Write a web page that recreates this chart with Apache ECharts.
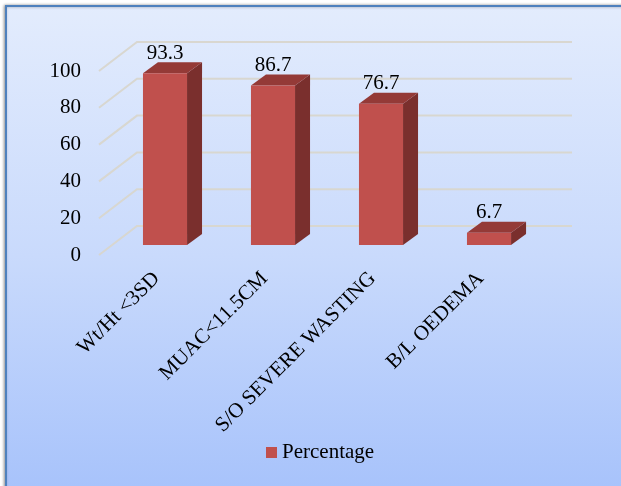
<!DOCTYPE html>
<html>
<head>
<meta charset="utf-8">
<script src="https://cdn.jsdelivr.net/npm/echarts@6/dist/echarts.min.js"></script>
<style>
  html, body { margin: 0; padding: 0; background: #ffffff; }
  #chart { width: 621px; height: 486px; }
</style>
</head>
<body>
<div id="chart"></div>
<script>
// Indicators of severe acute malnutrition, share of children (%)
const categories = ['Wt/Ht <3SD', 'MUAC<11.5CM', 'S/O SEVERE WASTING', 'B/L OEDEMA'];
const percentage = [93.3, 86.7, 76.7, 6.7];
const yTicks = [0, 20, 40, 60, 80, 100];

const FONT = '"Liberation Serif", "Times New Roman", serif';
const FRONT = '#c0504d', TOP = '#943a37', SIDE = '#7a2f2d';
// perspective offsets of the 3D box
const DEPTH_X = 15, DEPTH_Y = -11;

const chart = echarts.init(document.getElementById('chart'), null, { renderer: 'canvas' });

chart.setOption({
  animation: false,
  backgroundColor: '#ffffff',
  graphic: [{
    type: 'rect',
    z: -10,
    shape: { x: 6, y: 6, width: 640, height: 500 },
    style: {
      fill: new echarts.graphic.LinearGradient(0, 0, 0, 1, [
        { offset: 0, color: '#e3ecfd' },
        { offset: 0.5, color: '#c9dafc' },
        { offset: 1, color: '#a5c1fb' }
      ]),
      stroke: '#4f81bd',
      lineWidth: 2,
      shadowColor: 'rgba(0,0,0,0.35)',
      shadowBlur: 3,
      shadowOffsetX: -1,
      shadowOffsetY: 0
    }
  }],
  legend: {
    data: [{ name: 'Percentage', icon: 'rect' }],
    left: 261,
    top: 437,
    itemWidth: 11,
    itemHeight: 11,
    textStyle: { fontFamily: FONT, fontSize: 21, color: '#000' }
  },
  grid: [
    // plane of the bar fronts
    { left: 111, right: 78, top: 61, bottom: 241 },
    // front edge of the side wall (value labels)
    { left: 89, right: 78, top: 71, bottom: 231 }
  ],
  xAxis: [
    {
      type: 'category', gridIndex: 0, data: categories,
      axisLine: { show: false }, axisTick: { show: false },
      axisLabel: {
        rotate: 45, margin: 22, interval: 0, padding: [0, 12, 0, 0],
        fontFamily: FONT, fontSize: 21, color: '#000'
      }
    },
    { type: 'category', gridIndex: 1, data: categories, show: false }
  ],
  yAxis: [
    { type: 'value', gridIndex: 0, min: 0, max: 100, interval: 20, show: false, splitLine: { show: false } },
    {
      type: 'value', gridIndex: 1, min: 0, max: 100, interval: 20,
      axisLine: { show: false }, axisTick: { show: false }, splitLine: { show: false },
      axisLabel: { margin: 8, fontFamily: FONT, fontSize: 21, color: '#000' }
    }
  ],
  series: [
    {
      // wall gridlines: diagonal on the side wall, horizontal on the back wall
      type: 'custom',
      xAxisIndex: 0, yAxisIndex: 0,
      silent: true,
      data: yTicks.map(v => [0, v]),
      renderItem: function (params, api) {
        const cs = params.coordSys;
        const y = api.coord([0, api.value(1)])[1];
        const frontY = y + 10, backY = y - 19;
        return {
          type: 'polyline',
          shape: { points: [[cs.x - 12, frontY], [cs.x + 26, backY], [cs.x + cs.width + 29, backY]] },
          style: { stroke: 'rgba(216,214,206,0.95)', lineWidth: 2, fill: null }
        };
      },
      z: 1
    },
    {
      name: 'Percentage',
      type: 'custom',
      xAxisIndex: 0, yAxisIndex: 0,
      itemStyle: { color: FRONT },
      data: percentage.map((v, i) => [i, v]),
      renderItem: function (params, api) {
        const top = api.coord([api.value(0), api.value(1)]);
        const base = api.coord([api.value(0), 0]);
        const half = api.size([1, 0])[0] * 0.204;
        const xl = top[0] - half, xr = top[0] + half;
        const yt = top[1], yb = base[1];
        return {
          type: 'group',
          children: [
            { type: 'polygon', shape: { points: [[xr, yt], [xr + DEPTH_X, yt + DEPTH_Y], [xr + DEPTH_X, yb + DEPTH_Y], [xr, yb]] },
              style: { fill: SIDE } },
            { type: 'polygon', shape: { points: [[xl, yt], [xr, yt], [xr + DEPTH_X, yt + DEPTH_Y], [xl + DEPTH_X, yt + DEPTH_Y]] },
              style: { fill: TOP } },
            { type: 'rect', shape: { x: xl, y: yt, width: xr - xl, height: yb - yt },
              style: { fill: FRONT } },
            { type: 'text', x: top[0], y: yt - 20,
              style: { text: String(api.value(1)), font: '21px ' + FONT, fill: '#000', align: 'center', verticalAlign: 'middle' } }
          ]
        };
      },
      z: 3
    }
  ]
});
</script>
</body>
</html>
